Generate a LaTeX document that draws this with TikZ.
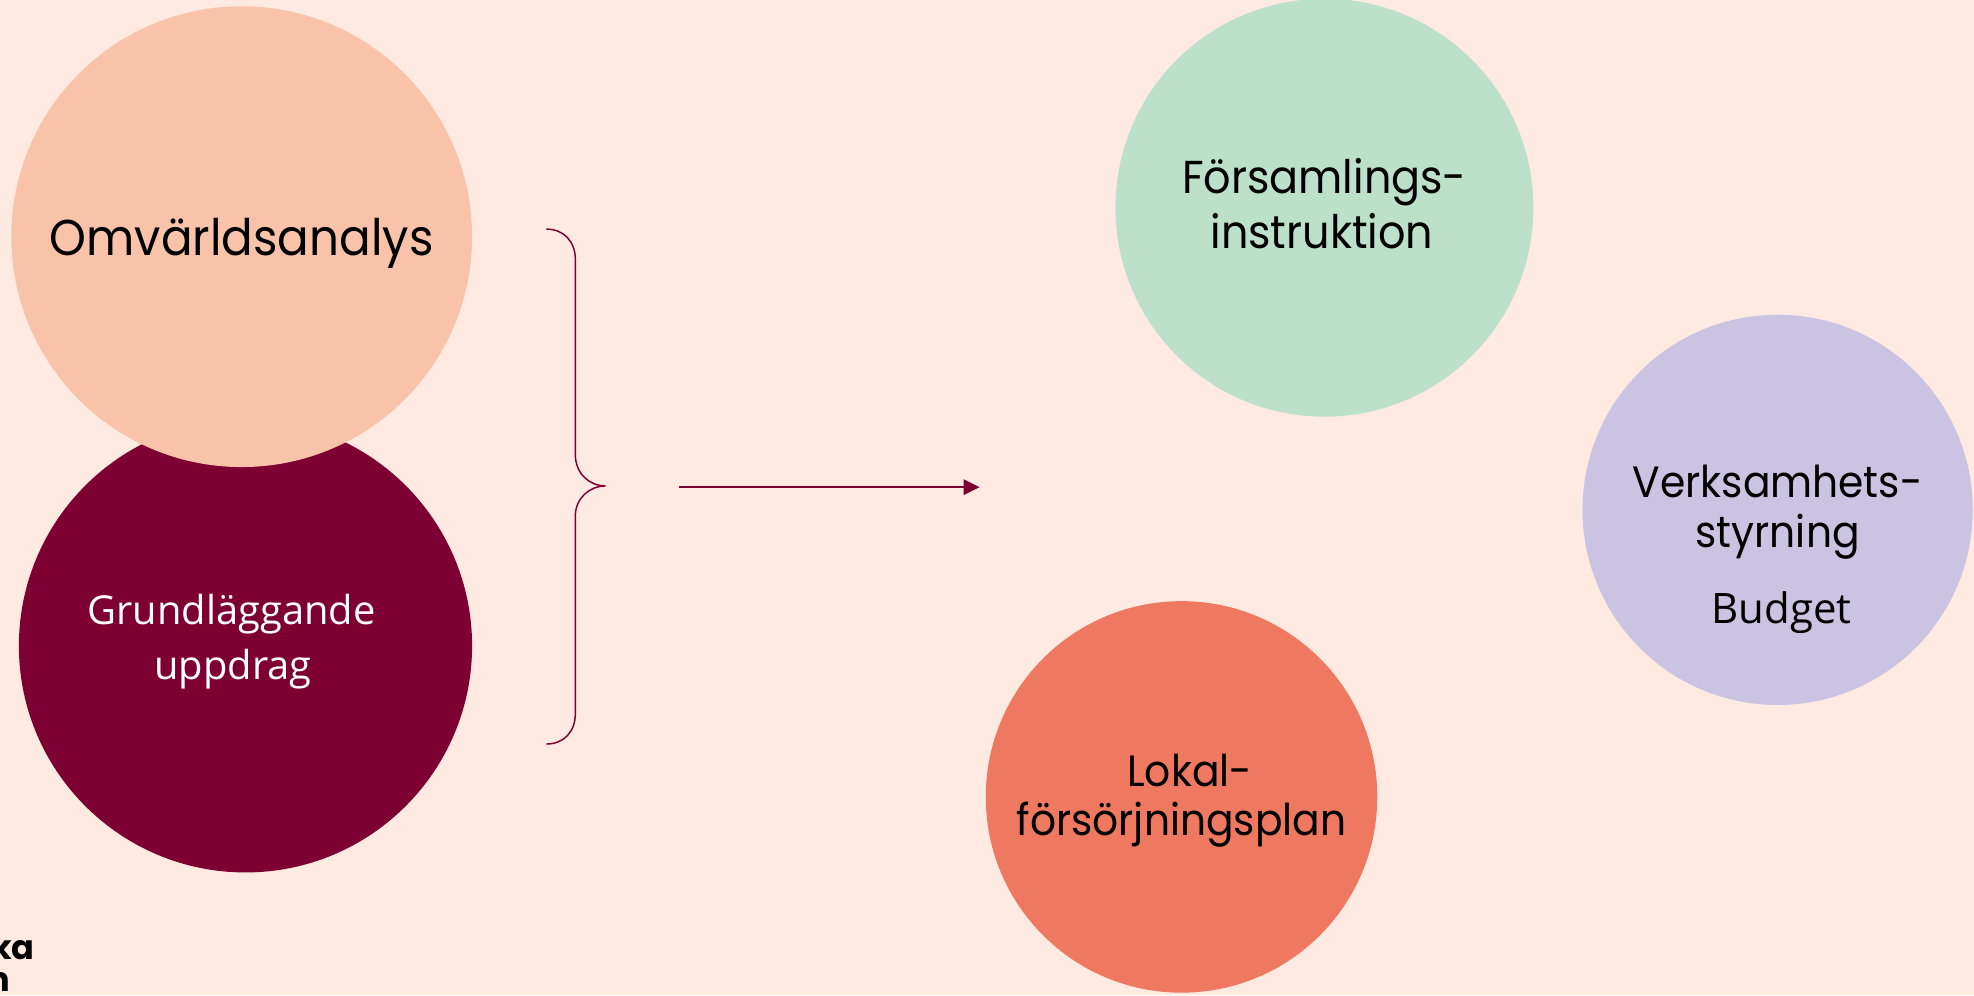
\documentclass[tikz,border=0pt]{standalone}
\usepackage{fontspec}
\setmainfont{Poppins}[FakeStretch=0.93]
\newfontfamily\logofont{Poppins}
\newfontfamily\aptos{Open Sans}
\usetikzlibrary{arrows.meta}
\definecolor{bg}{HTML}{FEEAE1}
\definecolor{cpeach}{HTML}{F9C3A9}
\definecolor{cwine}{HTML}{7E0033}
\definecolor{cmint}{HTML}{BDE0CA}
\definecolor{clilac}{HTML}{CBC3E2}
\definecolor{ccoral}{HTML}{EE7860}
\tikzset{
  blob/.style={circle, draw=none, inner sep=0pt, outer sep=0pt},
  lbl/.style={anchor=base, inner sep=0pt, font=\fontsize{22}{26}\selectfont, text=black},
  lblmid/.style={lbl, font=\fontsize{20.9}{25}\selectfont},
  lblsmall/.style={anchor=base, inner sep=0pt, font=\aptos\fontsize{19}{23}\selectfont},
  logotext/.style={inner sep=0pt, font=\logofont\bfseries\fontsize{16}{19}\selectfont},
  accent/.style={draw=cwine, line width=0.7pt},
}
\begin{document}
\begin{tikzpicture}[x=0.6pt,y=-0.6pt]
\useasboundingbox[fill=bg] (0,0) rectangle (1568,790.4);
% circles
\node[blob, fill=cwine, minimum size=216pt] (grund) at (195,513) {};
\node[blob, fill=cpeach, minimum size=219.6pt] (omv) at (192,188) {};
\node[blob, fill=cmint, minimum size=199.2pt] (fors) at (1052,165) {};
\node[blob, fill=clilac, minimum size=186pt] (verk) at (1412,405) {};
\node[blob, fill=ccoral, minimum size=186.6pt] (lokal) at (938.5,633) {};
% labels
\node[lbl, font=\fontsize{24}{28}\selectfont] (tomv) at (192,203) {Omvärldsanalys};
\node[lblsmall, text=white] (tgr1) at (184,496) {Grundläggande};
\node[lblsmall, text=white] (tgr2) at (185,540) {uppdrag};
\node[lbl] (tfo1) at (1052,154) {Församlings-};
\node[lbl] (tfo2) at (1050,197) {instruktion};
\node[lblmid] (tve1) at (1412,395) {Verksamhets-};
\node[lblmid] (tve2) at (1412,435) {styrning};
\node[lblsmall, font=\aptos\fontsize{20}{24}\selectfont] (tve3) at (1415,495) {Budget};
\node[lblmid] (tlo1) at (945,625) {Lokal-};
\node[lblmid] (tlo2) at (938.5,664) {försörjningsplan};
% logo text (cut at left edge, as in the reference)
\node[logotext, anchor=base east] (logo1) at (27.8,762) {Svenska};
\node[logotext, anchor=base west] (logo2) at ([yshift=-25.4*0.6pt]logo1.base west) {kyrkan};
% brace
\coordinate (btop) at (434,182);
\coordinate (btip) at (481,386);
\coordinate (bbot) at (434,591);
\draw[accent] (btop) .. controls (448,182) and (457,192) .. (457,206) -- (457,361)
  .. controls (457,376) and (468,386) .. (btip)
  .. controls (468,386) and (457,396) .. (457,410) -- (457,567)
  .. controls (457,581) and (448,591) .. (bbot);
% arrow
\coordinate (astart) at (539,387);
\coordinate (aend) at (778,387);
\draw[accent, line width=0.8pt, -{Triangle[length=7.6pt,width=7.4pt]}] (astart) -- (aend);
\end{tikzpicture}
\end{document}
